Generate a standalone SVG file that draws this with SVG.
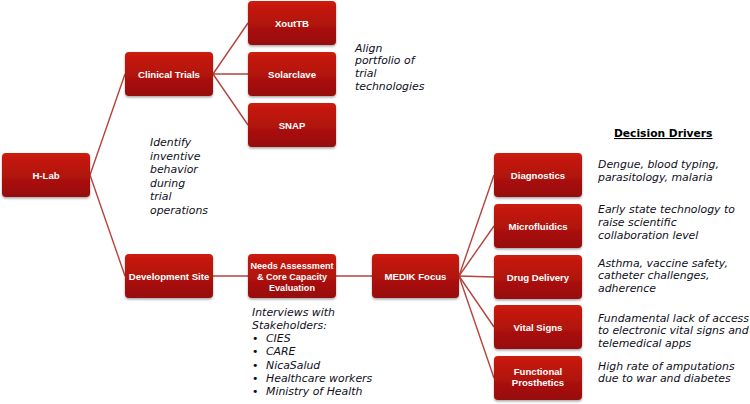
<svg xmlns="http://www.w3.org/2000/svg" width="750" height="404" viewBox="0 0 750 404">
<defs>
<linearGradient id="g" x1="0" y1="0" x2="0" y2="1">
<stop offset="0" stop-color="#cc1b10"/>
<stop offset="1" stop-color="#960b09"/>
</linearGradient>
<filter id="sh" x="-10%" y="-10%" width="120%" height="130%">
<feDropShadow dx="0" dy="1.5" stdDeviation="1" flood-color="#000" flood-opacity="0.35"/>
</filter>
</defs>
<style>
.box{fill:url(#g);filter:url(#sh)}
.lbl{font-family:"Liberation Sans",Arial,sans-serif;font-weight:bold;font-size:9.6px;fill:#fff;text-anchor:middle}
.sm{font-size:9.1px}
.it{font-family:"DejaVu Sans",Verdana,sans-serif;font-style:italic;font-size:10.9px;fill:#0e0e1a}
.con{stroke:#b5433c;stroke-width:1.4;fill:none}
.hd{font-family:"DejaVu Sans",Verdana,sans-serif;font-weight:bold;font-size:10.7px;fill:#000;text-decoration:underline}
</style>
<g id="connectors" class="con">
<line x1="90" y1="175" x2="125" y2="74"/>
<line x1="90" y1="175" x2="125" y2="276"/>
<line x1="213" y1="74" x2="248" y2="23"/>
<line x1="213" y1="74" x2="248" y2="74"/>
<line x1="213" y1="74" x2="248" y2="125"/>
<line x1="213" y1="276" x2="248" y2="276"/>
<line x1="336" y1="276" x2="372" y2="276"/>
<line x1="459" y1="276" x2="494" y2="175"/>
<line x1="459" y1="276" x2="494" y2="226"/>
<line x1="459" y1="276" x2="494" y2="277"/>
<line x1="459" y1="276" x2="494" y2="327"/>
<line x1="459" y1="276" x2="494" y2="378"/>
</g>
<g id="hlab"><rect class="box" x="2" y="153" width="88" height="44" rx="4"/><text class="lbl" x="46" y="178.5">H-Lab</text></g>
<g id="clinical-trials"><rect class="box" x="125" y="52" width="88" height="44" rx="4"/><text class="lbl" x="169" y="77.5">Clinical Trials</text></g>
<g id="xouttb"><rect class="box" x="248" y="1" width="88" height="44" rx="4"/><text class="lbl" x="292" y="26.5">XoutTB</text></g>
<g id="solarclave"><rect class="box" x="248" y="52" width="88" height="44" rx="4"/><text class="lbl" x="292" y="77.5">Solarclave</text></g>
<g id="snap"><rect class="box" x="248" y="103" width="88" height="44" rx="4"/><text class="lbl" x="292" y="128.5">SNAP</text></g>
<g id="development-site"><rect class="box" x="125" y="254" width="88" height="44" rx="4"/><text class="lbl" x="169" y="279.5">Development Site</text></g>
<g id="needs-assessment"><rect class="box" x="248" y="254" width="88" height="44" rx="4"/><text class="lbl sm" x="292" y="269.3">Needs Assessment</text><text class="lbl sm" x="292" y="280">&amp; Core Capacity</text><text class="lbl sm" x="292" y="290.7">Evaluation</text></g>
<g id="medik-focus"><rect class="box" x="372" y="254" width="87" height="44" rx="4"/><text class="lbl" x="415.5" y="279.5">MEDIK Focus</text></g>
<g id="diagnostics"><rect class="box" x="494" y="153" width="88" height="44" rx="4"/><text class="lbl" x="538" y="178.5">Diagnostics</text></g>
<g id="microfluidics"><rect class="box" x="494" y="204" width="88" height="44" rx="4"/><text class="lbl" x="538" y="229.5">Microfluidics</text></g>
<g id="drug-delivery"><rect class="box" x="494" y="255" width="88" height="44" rx="4"/><text class="lbl" x="538" y="280.5">Drug Delivery</text></g>
<g id="vital-signs"><rect class="box" x="494" y="305" width="88" height="44" rx="4"/><text class="lbl" x="538" y="330.5">Vital Signs</text></g>
<g id="functional-prosthetics"><rect class="box" x="494" y="356" width="88" height="44" rx="4"/><text class="lbl" x="538" y="375">Functional</text><text class="lbl" x="538" y="386">Prosthetics</text></g>
<g id="notes">
<text class="it" x="150" y="146">Identify</text>
<text class="it" x="150" y="159.5">inventive</text>
<text class="it" x="150" y="173">behavior</text>
<text class="it" x="150" y="186.5">during</text>
<text class="it" x="150" y="200">trial</text>
<text class="it" x="150" y="213.5">operations</text>
<text class="it" x="355" y="51.5">Align</text>
<text class="it" x="355" y="64.3">portfolio of</text>
<text class="it" x="355" y="77.1">trial</text>
<text class="it" x="355" y="89.9">technologies</text>
<text class="it" x="252" y="315.5">Interviews with</text>
<text class="it" x="252" y="328.8">Stakeholders:</text>
<text class="it" x="252" y="342" font-style="normal">•</text><text class="it" x="266" y="342">CIES</text>
<text class="it" x="252" y="355.3" font-style="normal">•</text><text class="it" x="266" y="355.3">CARE</text>
<text class="it" x="252" y="368.6" font-style="normal">•</text><text class="it" x="266" y="368.6">NicaSalud</text>
<text class="it" x="252" y="382" font-style="normal">•</text><text class="it" x="266" y="382">Healthcare workers</text>
<text class="it" x="252" y="395.3" font-style="normal">•</text><text class="it" x="266" y="395.3">Ministry of Health</text>
<text class="hd" x="614" y="137">Decision Drivers</text>
<text class="it" x="598" y="168">Dengue, blood typing,</text>
<text class="it" x="598" y="181">parasitology, malaria</text>
<text class="it" x="598" y="213">Early state technology to</text>
<text class="it" x="598" y="226">raise scientific</text>
<text class="it" x="598" y="239">collaboration level</text>
<text class="it" x="598" y="266.5">Asthma, vaccine safety,</text>
<text class="it" x="598" y="279">catheter challenges,</text>
<text class="it" x="598" y="291.5">adherence</text>
<text class="it" x="598" y="321.5">Fundamental lack of access</text>
<text class="it" x="598" y="334">to electronic vital signs and</text>
<text class="it" x="598" y="346.5">telemedical apps</text>
<text class="it" x="598" y="369.5">High rate of amputations</text>
<text class="it" x="598" y="382">due to war and diabetes</text>
</g>
</svg>
